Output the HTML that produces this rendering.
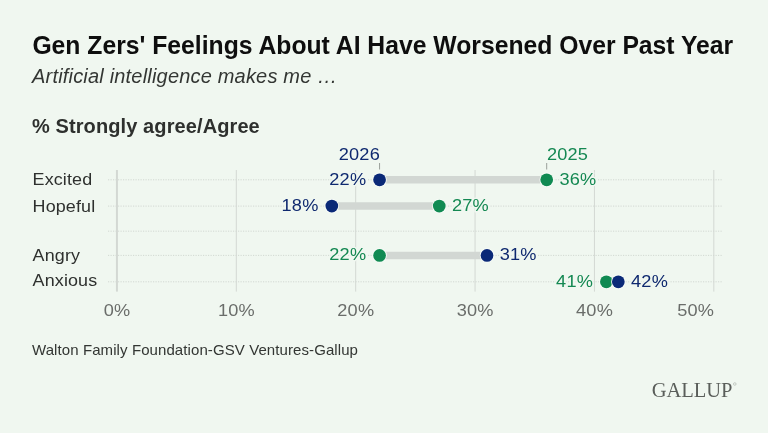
<!DOCTYPE html>
<html><head><meta charset="utf-8"><style>
html,body{margin:0;padding:0;background:#F0F7F0;width:768px;height:433px;overflow:hidden}
svg{display:block;will-change:transform}
text{font-family:"Liberation Sans", sans-serif}
.serif{font-family:"Liberation Serif", serif}
.lbl{paint-order:stroke;stroke:#F0F7F0;stroke-width:3px;stroke-linejoin:round}
</style></head><body>
<svg width="768" height="433" viewBox="0 0 768 433">
<rect width="768" height="433" fill="#F0F7F0"/>
<line x1="108" x2="722" y1="179.8" y2="179.8" stroke="#D2D8D2" stroke-width="1" stroke-dasharray="1.2 1.3"/>
<line x1="108" x2="722" y1="206.1" y2="206.1" stroke="#D2D8D2" stroke-width="1" stroke-dasharray="1.2 1.3"/>
<line x1="108" x2="722" y1="231.2" y2="231.2" stroke="#D2D8D2" stroke-width="1" stroke-dasharray="1.2 1.3"/>
<line x1="108" x2="722" y1="255.4" y2="255.4" stroke="#D2D8D2" stroke-width="1" stroke-dasharray="1.2 1.3"/>
<line x1="108" x2="722" y1="281.8" y2="281.8" stroke="#D2D8D2" stroke-width="1" stroke-dasharray="1.2 1.3"/>
<line x1="116.95" x2="116.95" y1="170" y2="291.6" stroke="#D3D8D3" stroke-width="2"/>
<line x1="236.325" x2="236.325" y1="170" y2="291.6" stroke="#D3D8D3" stroke-width="1"/>
<line x1="355.7" x2="355.7" y1="170" y2="291.6" stroke="#D3D8D3" stroke-width="1"/>
<line x1="475.075" x2="475.075" y1="170" y2="291.6" stroke="#D3D8D3" stroke-width="1"/>
<line x1="594.45" x2="594.45" y1="170" y2="291.6" stroke="#D3D8D3" stroke-width="1"/>
<line x1="713.825" x2="713.825" y1="170" y2="291.6" stroke="#D3D8D3" stroke-width="1"/>
<g transform="translate(117.05,316.00) scale(1.07,1)"><text x="0" y="0" text-anchor="middle" fill="#6A6D6A" font-size="17" letter-spacing="0.2">0%</text></g>
<g transform="translate(236.42,316.00) scale(1.07,1)"><text x="0" y="0" text-anchor="middle" fill="#6A6D6A" font-size="17" letter-spacing="0.2">10%</text></g>
<g transform="translate(355.80,316.00) scale(1.07,1)"><text x="0" y="0" text-anchor="middle" fill="#6A6D6A" font-size="17" letter-spacing="0.2">20%</text></g>
<g transform="translate(475.18,316.00) scale(1.07,1)"><text x="0" y="0" text-anchor="middle" fill="#6A6D6A" font-size="17" letter-spacing="0.2">30%</text></g>
<g transform="translate(594.55,316.00) scale(1.07,1)"><text x="0" y="0" text-anchor="middle" fill="#6A6D6A" font-size="17" letter-spacing="0.2">40%</text></g>
<g transform="translate(714.23,316.00) scale(1.07,1)"><text x="0" y="0" text-anchor="end" fill="#6A6D6A" font-size="17" letter-spacing="0.2">50%</text></g>
<g transform="translate(32.6,184.9) scale(1.055,1)"><text x="0" y="0" fill="#2E302E" font-size="17" letter-spacing="0.12">Excited</text></g>
<g transform="translate(32.6,211.6) scale(1.055,1)"><text x="0" y="0" fill="#2E302E" font-size="17" letter-spacing="0.12">Hopeful</text></g>
<g transform="translate(32.6,260.6) scale(1.055,1)"><text x="0" y="0" fill="#2E302E" font-size="17" letter-spacing="0.12">Angry</text></g>
<g transform="translate(32.6,285.7) scale(1.055,1)"><text x="0" y="0" fill="#2E302E" font-size="17" letter-spacing="0.12">Anxious</text></g>
<line x1="379.575" x2="546.7" y1="179.8" y2="179.8" stroke="#D2D7D3" stroke-width="7.5"/>
<line x1="331.825" x2="439.2625" y1="206.1" y2="206.1" stroke="#D2D7D3" stroke-width="7.5"/>
<line x1="379.575" x2="487.0125" y1="255.4" y2="255.4" stroke="#D2D7D3" stroke-width="7.5"/>
<line x1="606.3875" x2="618.325" y1="281.8" y2="281.8" stroke="#D2D7D3" stroke-width="7.5"/>
<circle cx="546.7" cy="179.8" r="7.2" fill="#F8FCF8"/>
<circle cx="546.7" cy="179.8" r="6.35" fill="#108A52"/>
<circle cx="379.575" cy="179.8" r="7.2" fill="#F8FCF8"/>
<circle cx="379.575" cy="179.8" r="6.35" fill="#0A2977"/>
<g transform="translate(366.27,184.70) scale(1.07,1)"><text class="lbl" x="0" y="0" text-anchor="end" fill="#0F296F" font-size="17" letter-spacing="0.2">22%</text></g>
<g transform="translate(559.40,184.70) scale(1.07,1)"><text class="lbl" x="0" y="0" text-anchor="start" fill="#148852" font-size="17" letter-spacing="0.2">36%</text></g>
<circle cx="439.2625" cy="206.1" r="7.2" fill="#F8FCF8"/>
<circle cx="439.2625" cy="206.1" r="6.35" fill="#108A52"/>
<circle cx="331.825" cy="206.1" r="7.2" fill="#F8FCF8"/>
<circle cx="331.825" cy="206.1" r="6.35" fill="#0A2977"/>
<g transform="translate(318.52,211.00) scale(1.07,1)"><text class="lbl" x="0" y="0" text-anchor="end" fill="#0F296F" font-size="17" letter-spacing="0.2">18%</text></g>
<g transform="translate(451.96,211.00) scale(1.07,1)"><text class="lbl" x="0" y="0" text-anchor="start" fill="#148852" font-size="17" letter-spacing="0.2">27%</text></g>
<circle cx="379.575" cy="255.4" r="7.2" fill="#F8FCF8"/>
<circle cx="379.575" cy="255.4" r="6.35" fill="#108A52"/>
<circle cx="487.0125" cy="255.4" r="7.2" fill="#F8FCF8"/>
<circle cx="487.0125" cy="255.4" r="6.35" fill="#0A2977"/>
<g transform="translate(366.27,260.30) scale(1.07,1)"><text class="lbl" x="0" y="0" text-anchor="end" fill="#148852" font-size="17" letter-spacing="0.2">22%</text></g>
<g transform="translate(499.71,260.30) scale(1.07,1)"><text class="lbl" x="0" y="0" text-anchor="start" fill="#0F296F" font-size="17" letter-spacing="0.2">31%</text></g>
<circle cx="606.3875" cy="281.8" r="7.2" fill="#F8FCF8"/>
<circle cx="606.3875" cy="281.8" r="6.35" fill="#108A52"/>
<circle cx="618.325" cy="281.8" r="7.2" fill="#F8FCF8"/>
<circle cx="618.325" cy="281.8" r="6.35" fill="#0A2977"/>
<g transform="translate(593.09,286.70) scale(1.07,1)"><text class="lbl" x="0" y="0" text-anchor="end" fill="#148852" font-size="17" letter-spacing="0.2">41%</text></g>
<g transform="translate(631.03,286.70) scale(1.07,1)"><text class="lbl" x="0" y="0" text-anchor="start" fill="#0F296F" font-size="17" letter-spacing="0.2">42%</text></g>
<line x1="379.575" x2="379.575" y1="163" y2="169.5" stroke="#9A9F9A" stroke-width="1"/>
<line x1="546.7" x2="546.7" y1="163" y2="169.5" stroke="#9A9F9A" stroke-width="1"/>
<g transform="translate(379.97,159.60) scale(1.07,1)"><text x="0" y="0" text-anchor="end" fill="#0F296F" font-size="17" letter-spacing="0.2">2026</text></g>
<g transform="translate(546.90,159.60) scale(1.07,1)"><text x="0" y="0" text-anchor="start" fill="#148852" font-size="17" letter-spacing="0.2">2025</text></g>
<g transform="translate(32.4,54.3) scale(0.981,1)"><text x="0" y="0" fill="#0E0E0E" font-size="25.2" font-weight="bold">Gen Zers' Feelings About AI Have Worsened Over Past Year</text></g>
<text x="32" y="82.9" fill="#333633" font-size="20" font-style="italic" letter-spacing="0.19">Artificial intelligence makes me …</text>
<text x="32" y="133.3" fill="#2E302E" font-size="20" font-weight="bold" letter-spacing="0.1">% Strongly agree/Agree</text>
<text x="32" y="354.8" fill="#333633" font-size="15" letter-spacing="0.09">Walton Family Foundation-GSV Ventures-Gallup</text>
<text x="732.5" y="397.2" text-anchor="end" fill="#5A5E5A" font-size="20.5" class="serif">GALLUP</text>
<circle cx="734.8" cy="384" r="1.3" fill="none" stroke="#9AA09A" stroke-width="0.5"/>
</svg>
</body></html>
